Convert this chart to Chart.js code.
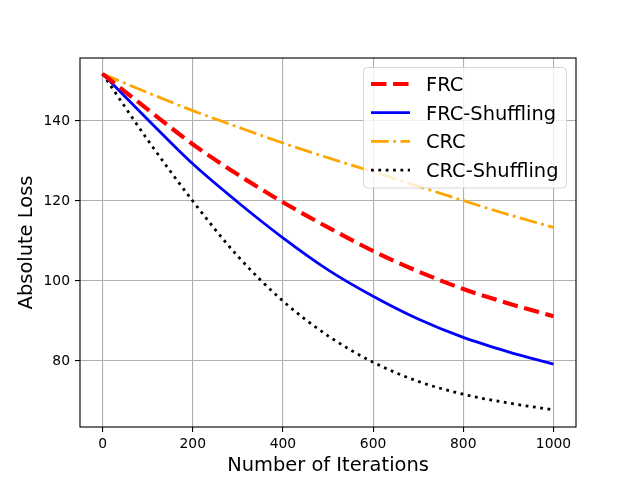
<!DOCTYPE html>
<html>
<head>
<meta charset="utf-8">
<script src="https://cdn.jsdelivr.net/npm/chart.js@4.4.1/dist/chart.umd.min.js"></script>
<style>
  html, body { margin: 0; padding: 0; background: #ffffff; }
  #c { display: block; }
</style>
</head>
<body>
<canvas id="c" width="640" height="480"></canvas>
<script>
const iterations = [0, 100, 200, 300, 400, 500, 600, 700, 800, 900, 1000];
const frc        = [151.8, 142.9, 134.2, 126.6, 119.7, 113.4, 107.5, 102.4, 98.0, 94.4, 91.2];
const frcShuf    = [151.8, 140.4, 129.3, 119.7, 110.8, 102.8, 96.2, 90.5, 85.9, 82.3, 79.2];
const crc        = [151.8, 147.1, 142.6, 138.5, 134.5, 130.8, 127.3, 123.7, 120.1, 116.6, 113.4];
const crcShuf    = [151.8, 135.3, 120.0, 106.2, 95.0, 86.3, 79.7, 74.9, 71.7, 69.5, 67.8];
const seriesNames = ['FRC', 'FRC-Shuffling', 'CRC', 'CRC-Shuffling'];
const xTicks = [0, 200, 400, 600, 800, 1000];
const yTicks = [80, 100, 120, 140];
const xLabel = 'Number of Iterations';
const yLabel = 'Absolute Loss';

const FONT = "'DejaVu Sans', sans-serif";
const PT = 100 / 72;

function pts(arr) { return iterations.map((x, i) => ({ x: x, y: arr[i] })); }

const styles = [
  { color: '#ff0000', width: 3 * PT, dash: [3.7 * 3 * PT, 1.6 * 3 * PT] },
  { color: '#0000ff', width: 2 * PT, dash: [] },
  { color: '#ffa500', width: 2 * PT, dash: [6.4 * 2 * PT, 1.6 * 2 * PT, 1 * 2 * PT, 1.6 * 2 * PT] },
  { color: '#000000', width: 2 * PT, dash: [1 * 2 * PT, 1.65 * 2 * PT] }
];
const seriesData = [frc, frcShuf, crc, crcShuf];

const datasets = seriesData.map((arr, i) => ({
  label: seriesNames[i],
  data: pts(arr),
  borderColor: styles[i].color,
  backgroundColor: styles[i].color,
  borderWidth: styles[i].width,
  borderDash: styles[i].dash,
  borderCapStyle: 'butt',
  pointRadius: 0,
  fill: false,
  cubicInterpolationMode: 'monotone'
}));

const spines = {
  id: 'spines',
  afterDatasetsDraw(chart) {
    const a = chart.chartArea, ctx = chart.ctx;
    ctx.save();
    ctx.strokeStyle = '#000';
    ctx.lineWidth = 0.8 * PT;
    ctx.strokeRect(a.left, a.top, a.right - a.left, a.bottom - a.top);
    ctx.restore();
  }
};

const legendBox = {
  id: 'legendBox',
  afterDraw(chart) {
    const ctx = chart.ctx;
    const x0 = 363.5, y0 = 67.5, w = 203, h = 120.5;
    ctx.save();
    ctx.beginPath();
    if (ctx.roundRect) ctx.roundRect(x0, y0, w, h, 4); else ctx.rect(x0, y0, w, h);
    ctx.fillStyle = 'rgba(255,255,255,0.8)';
    ctx.fill();
    ctx.strokeStyle = 'rgba(204,204,204,0.8)';
    ctx.lineWidth = 1;
    ctx.stroke();
    ctx.font = (14 * PT).toFixed(2) + 'px ' + FONT;
    ctx.textBaseline = 'alphabetic';
    ctx.textAlign = 'left';
    chart.data.datasets.forEach((ds, i) => {
      const base = 91 + i * 28.7;
      const ly = base - 7;
      ctx.beginPath();
      ctx.setLineDash(styles[i].dash);
      ctx.lineDashOffset = 0;
      ctx.lineWidth = styles[i].width;
      ctx.strokeStyle = styles[i].color;
      ctx.lineCap = 'butt';
      ctx.moveTo(371, ly);
      ctx.lineTo(410, ly);
      ctx.stroke();
      ctx.setLineDash([]);
      ctx.fillStyle = '#000';
      ctx.fillText(ds.label, 426, base);
    });
    ctx.restore();
  }
};

new Chart(document.getElementById('c'), {
  type: 'line',
  data: { datasets: datasets },
  options: {
    responsive: false,
    devicePixelRatio: 1,
    animation: false,
    layout: { padding: { left: 0, right: 64, top: 58, bottom: 0 } },
    plugins: { legend: { display: false }, tooltip: { enabled: false } },
    scales: {
      x: {
        type: 'linear',
        min: -50, max: 1050,
        afterBuildTicks(s) { s.ticks = xTicks.map(v => ({ value: v })); },
        afterFit(s) { s.height = 53; },
        border: { display: false },
        grid: { color: '#b0b0b0', lineWidth: 0.8 * PT, tickColor: '#000', tickLength: 5, tickWidth: 0.8 * PT },
        ticks: { color: '#000', font: { family: FONT, size: 10 * PT }, padding: 4, maxRotation: 0, autoSkip: false, callback: v => String(v) },
        title: { display: true, text: xLabel, color: '#000', font: { family: FONT, size: 14 * PT }, padding: { top: 0, bottom: 2 } }
      },
      y: {
        type: 'linear',
        min: 63.5, max: 155.75,
        afterBuildTicks(s) { s.ticks = yTicks.map(v => ({ value: v })); },
        afterFit(s) { s.width = 80; },
        border: { display: false },
        grid: { color: '#b0b0b0', lineWidth: 0.8 * PT, tickColor: '#000', tickLength: 5, tickWidth: 0.8 * PT },
        ticks: { color: '#000', font: { family: FONT, size: 10 * PT }, padding: 5, callback: v => String(v) },
        title: { display: true, text: yLabel, color: '#000', font: { family: FONT, size: 14 * PT }, padding: { top: 15, bottom: 0 } }
      }
    }
  },
  plugins: [spines, legendBox]
});
</script>
</body>
</html>
